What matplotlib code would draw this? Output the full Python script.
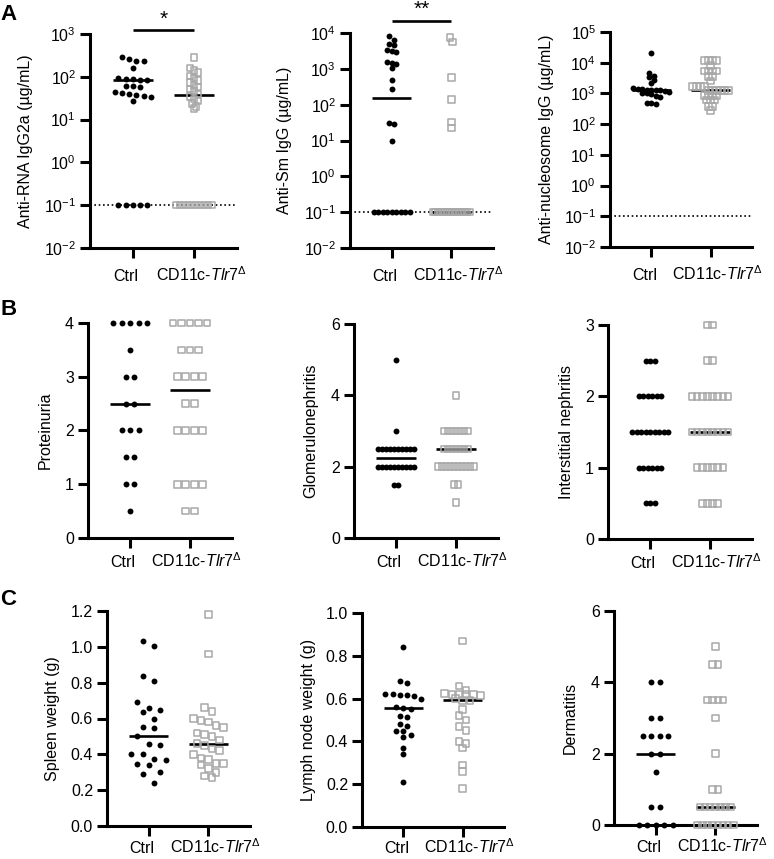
import numpy as np
import matplotlib
matplotlib.use("Agg")
import matplotlib.pyplot as plt
from matplotlib.ticker import FixedLocator, NullLocator, LogFormatterMathtext, FormatStrFormatter
from matplotlib.transforms import ScaledTranslation

plt.rcParams['font.family'] = ['Liberation Sans', 'DejaVu Sans']
plt.rcParams['mathtext.fontset'] = 'custom'
plt.rcParams['mathtext.rm'] = 'Liberation Sans'
plt.rcParams['mathtext.it'] = 'Liberation Sans:italic'
plt.rcParams['mathtext.bf'] = 'Liberation Sans:bold'
plt.rcParams['mathtext.sf'] = 'Liberation Sans'

# ---------------- data ----------------
group_labels = ['Ctrl', r'CD11c-$\mathit{Tlr7}^{\Delta}$']

# A: autoantibodies (ug/mL), 0.1 = below detection
rna_ctrl = [290, 265, 240, 235, 158, 92, 90, 87, 85, 83, 62, 60, 57, 44, 42, 40, 38, 36, 34, 27,
            0.1, 0.1, 0.1, 0.1, 0.1]
rna_cd = [285, 160, 140, 125, 105, 93, 82, 74, 65, 58, 52, 46, 40, 35, 30, 27, 24, 20, 18,
          0.1, 0.1, 0.1, 0.1, 0.1, 0.1, 0.1, 0.1, 0.1, 0.1]
rna_lines = [85, 38]

sm_ctrl = [8000, 6200, 5000, 4500, 3300, 3100, 3000, 1600, 1450, 1350, 1050, 500, 275, 31, 29, 9.5,
           0.1, 0.1, 0.1, 0.1, 0.1, 0.1, 0.1, 0.1, 0.1]
sm_cd = [7500, 5600, 580, 140, 33, 22,
         0.1, 0.1, 0.1, 0.1, 0.1, 0.1, 0.1, 0.1, 0.1, 0.1, 0.1, 0.1, 0.1, 0.1, 0.1, 0.1]
sm_lines = [150, 0.1]

nuc_ctrl = [21000, 4600, 3600, 3400, 2800, 2200, 1450, 1400, 1350, 1300, 1300, 1250, 1250, 1200,
            1150, 1050, 1000, 950, 820, 780, 500, 480, 460]
nuc_cd = [11900, 11900, 11900, 11900, 8200, 5400, 5400, 5400, 5400, 3600, 3600, 2500,
          1700, 1700, 1700, 1700, 1260, 1260, 1260, 1260, 1260, 1260, 870, 870, 870, 870,
          600, 600, 600, 380, 380, 280]
nuc_lines = [1250, 1330]

# B: kidney scores
prot_ctrl = [4, 4, 4, 4, 4, 3.5, 3, 3, 2.5, 2.5, 2, 2, 2, 1.5, 1.5, 1, 1, 0.5]
prot_cd = [4, 4, 4, 4, 4, 3.5, 3.5, 3.5, 3, 3, 3, 3, 2.5, 2.5, 2, 2, 2, 2, 1, 1, 1, 1, 0.5, 0.5]
prot_lines = [2.5, 2.75]

glom_ctrl = [5, 3] + [2.5] * 10 + [2] * 10 + [1.5, 1.5]
glom_cd = [4] + [3] * 7 + [2.5] * 7 + [2] * 10 + [1.5, 1.5, 1]
glom_lines = [2.25, 2.5]

inter_ctrl = [2.5] * 3 + [2] * 6 + [1.5] * 9 + [1] * 6 + [0.5] * 3
inter_cd = [3] * 2 + [2.5] * 2 + [2] * 8 + [1.5] * 8 + [1] * 6 + [0.5] * 4
inter_lines = [1.5, 1.5]

# C: organ weights and dermatitis
spleen_ctrl = [1.035, 1.005, 0.835, 0.81, 0.69, 0.66, 0.645, 0.635, 0.60, 0.555, 0.545, 0.50,
               0.46, 0.45, 0.40, 0.40, 0.375, 0.37, 0.345, 0.34, 0.30, 0.29, 0.24]
spleen_cd = [1.18, 0.96, 0.66, 0.64, 0.60, 0.59, 0.58, 0.56, 0.55, 0.52, 0.51, 0.50, 0.48, 0.46,
             0.45, 0.43, 0.42, 0.40, 0.38, 0.37, 0.35, 0.35, 0.34, 0.32, 0.30, 0.28, 0.27]
spleen_lines = [0.50, 0.455]

ln_ctrl = [0.84, 0.68, 0.675, 0.62, 0.62, 0.615, 0.615, 0.61, 0.60, 0.56, 0.555, 0.55, 0.52, 0.515,
           0.48, 0.47, 0.45, 0.45, 0.43, 0.42, 0.37, 0.34, 0.21]
ln_cd = [0.87, 0.66, 0.64, 0.625, 0.62, 0.62, 0.62, 0.615, 0.62, 0.60, 0.59, 0.59, 0.55, 0.52,
         0.50, 0.47, 0.45, 0.40, 0.39, 0.37, 0.29, 0.26, 0.18]
ln_lines = [0.556, 0.592]

derm_ctrl = [4, 4, 3, 3, 2.5, 2.5, 2.5, 2.5, 2, 2, 1.5, 0.5, 0.5, 0, 0, 0, 0, 0]
derm_cd = [5, 4.5, 4.5, 3.5, 3.5, 3.5, 3.5, 3, 2, 1, 1] + [0.5] * 7 + [0] * 8
derm_lines = [2.0, 0.5]

# ---------------- figure ----------------
W, H, DPI = 774, 859, 100
fig = plt.figure(figsize=(W / DPI, H / DPI), dpi=DPI)
fig.patch.set_facecolor('white')

GRAY = '#a8a8a8'
XL = (-0.7, 1.7)
FS = 11.5
XLAB_SHIFT_PX = (-7, 7)


def add_axes(px):
    l, t, w, h = px
    return fig.add_axes([l / W, 1 - (t + h) / H, w / W, h / H])


def spread_x(ax, vals, center, spacing_px, bin_px, max_span_px):
    vals = np.asarray(vals, float)
    pts = ax.transData.transform(np.column_stack([np.full(len(vals), center), vals]))
    ypix = pts[:, 1]
    order = np.argsort(-ypix, kind='stable')
    rows, cur, start = [], [], None
    for i in order:
        if cur and start - ypix[i] < bin_px:
            cur.append(i)
        else:
            if cur:
                rows.append(cur)
            cur, start = [i], ypix[i]
    rows.append(cur)
    maxn = max(len(r) for r in rows)
    s = spacing_px if maxn < 2 else min(spacing_px, max_span_px / (maxn - 1))
    ppu = ax.transData.transform([[1, 0]])[0, 0] - ax.transData.transform([[0, 0]])[0, 0]
    x = np.empty(len(vals))
    for r in rows:
        n = len(r)
        for k, i in enumerate(r):
            x[i] = center + (k - (n - 1) / 2) * s / ppu
    return x


def panel(px, ctrl, cd, lines, ylabel, label_cx, ylim, yticks, fmt=None, log=False, lod=None,
          sp=(8.5, 8.5), binpx=0.5, span=36, xlab_drop=29):
    ax = add_axes(px)
    ax.set_xlim(*XL)
    if log:
        ax.set_yscale('log')
    ax.set_ylim(*ylim)
    ax.yaxis.set_major_locator(FixedLocator(yticks))
    ax.yaxis.set_minor_locator(NullLocator())
    if log:
        ax.yaxis.set_major_formatter(LogFormatterMathtext())
    else:
        ax.yaxis.set_major_formatter(FormatStrFormatter(fmt))
    ax.set_xticks([0, 1])
    ax.set_xticklabels(group_labels)
    ax.xaxis.set_minor_locator(NullLocator())
    for s in ['top', 'right']:
        ax.spines[s].set_visible(False)
    for s in ['left', 'bottom']:
        ax.spines[s].set_linewidth(2.2)
    ax.tick_params(axis='both', width=2.2, labelsize=FS, color='k')
    ax.tick_params(axis='y', length=7, pad=3)
    xlen = 7.5
    ax.tick_params(axis='x', length=xlen, pad=xlab_drop * 0.72 - xlen)
    for t, dx in zip(ax.get_xticklabels(), XLAB_SHIFT_PX):
        t.set_va('baseline')
        t.set_transform(t.get_transform() + ScaledTranslation(dx / DPI, 0, fig.dpi_scale_trans))
    ax.patch.set_alpha(0)
    if lod is not None:
        ax.plot(XL, [lod, lod], color='k', ls=(0, (1, 1.6)), lw=1.2, zorder=1, clip_on=False)
    for c, m in enumerate(lines):
        ax.plot([c - 0.33, c + 0.33], [m, m], color='k', lw=1.9, zorder=2,
                solid_capstyle='butt')
    xc = spread_x(ax, ctrl, 0, sp[0], binpx, span)
    xd = spread_x(ax, cd, 1, sp[1], binpx, span)
    ax.scatter(xc, ctrl, s=18, marker='o', color='k', linewidths=0, zorder=3, clip_on=False)
    ax.scatter(xd, cd, s=22, marker='s', facecolors='none', edgecolors=GRAY, linewidths=1.1,
               zorder=3, clip_on=False)
    ax.set_ylabel(ylabel, fontsize=FS, va='center')
    l, t, w, h = px
    ax.yaxis.set_label_coords((label_cx - l) / w, 0.5)
    return ax


UG = 'IgG (\u00b5g/mL)'
logt = lambda a, b: [10.0 ** k for k in range(a, b + 1)]

a1 = panel([90, 34, 147, 214], rna_ctrl, rna_cd, rna_lines, 'Anti-RNA IgG2a (\u00b5g/mL)', 26,
           (1e-2, 1e3), logt(-2, 3), log=True, lod=0.1, sp=(7.5, 8), binpx=5, xlab_drop=33)
a2 = panel([350, 33, 143, 215], sm_ctrl, sm_cd, sm_lines, 'Anti-Sm ' + UG, 285,
           (1e-2, 1e4), logt(-2, 4), log=True, lod=0.1, sp=(8, 8), binpx=5, xlab_drop=33)
a3 = panel([610, 32, 142, 215], nuc_ctrl, nuc_cd, nuc_lines, 'Anti-nucleosome ' + UG, 547,
           (1e-2, 1e5), logt(-2, 5), log=True, lod=0.1, sp=(8, 6.8), binpx=4, xlab_drop=33)

panel([88, 323, 144, 215], prot_ctrl, prot_cd, prot_lines, 'Proteinuria', 45,
      (0, 4), [0, 1, 2, 3, 4], fmt='%d')
panel([354, 324, 144, 214], glom_ctrl, glom_cd, glom_lines, 'Glomerulonephritis', 311,
      (0, 6), [0, 2, 4, 6], fmt='%d')
panel([608, 325, 144, 214], inter_ctrl, inter_cd, inter_lines, 'Interstitial nephritis', 566,
      (0, 3), [0, 1, 2, 3], fmt='%d')

panel([107, 611, 143, 215], spleen_ctrl, spleen_cd, spleen_lines, 'Spleen weight (g)', 53,
      (0, 1.2), [0, 0.2, 0.4, 0.6, 0.8, 1.0, 1.2], fmt='%.1f', sp=(11.5, 7.5), binpx=9,
      xlab_drop=27)
panel([362, 613, 142, 214], ln_ctrl, ln_cd, ln_lines, 'Lymph node weight (g)', 308,
      (0, 1.0), [0, 0.2, 0.4, 0.6, 0.8, 1.0], fmt='%.1f', sp=(8.5, 7.7), binpx=5,
      xlab_drop=26)
panel([614, 611, 143, 214], derm_ctrl, derm_cd, derm_lines, 'Dermatitis', 570,
      (0, 6), [0, 2, 4, 6], fmt='%d', xlab_drop=27)

# significance bars
for ax, yl, ys, txt in [(a1, 4 / 214, 9 / 214, '*'), (a2, 12 / 215, 18 / 215, '**')]:
    tr = ax.get_xaxis_transform()
    ax.plot([0, 1], [1 + yl, 1 + yl], transform=tr, color='k', lw=1.9, clip_on=False,
            solid_capstyle='butt')
    ax.text(0.5, 1 + ys, txt, transform=tr, ha='center', va='baseline', fontsize=15)

# panel letters
for lab, ytop in [('A', 4), ('B', 299), ('C', 589)]:
    fig.text(0, 1 - ytop / H, lab, fontsize=16, fontweight='bold', ha='left', va='top')

fig.savefig('out.png', dpi=DPI, facecolor='white')
